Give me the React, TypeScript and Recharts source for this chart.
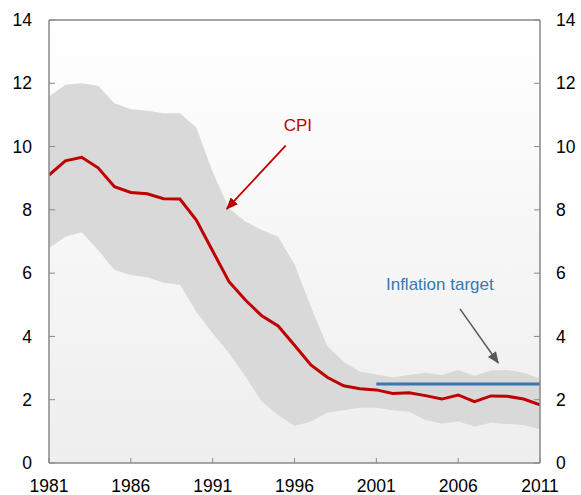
import React from 'react';
import {
  ComposedChart, Area, Line, XAxis, YAxis, ReferenceLine, ReferenceArea, ReferenceDot,
} from 'recharts';

const years = [1981, 1982, 1983, 1984, 1985, 1986, 1987, 1988, 1989, 1990, 1991, 1992, 1993, 1994, 1995, 1996, 1997, 1998, 1999, 2000, 2001, 2002, 2003, 2004, 2005, 2006, 2007, 2008, 2009, 2010, 2011];
const cpi = [9.1, 9.55, 9.66, 9.33, 8.73, 8.55, 8.51, 8.35, 8.34, 7.68, 6.7, 5.73, 5.15, 4.65, 4.33, 3.72, 3.1, 2.71, 2.44, 2.35, 2.31, 2.2, 2.22, 2.13, 2.02, 2.15, 1.94, 2.12, 2.11, 2.02, 1.84];
const bandHigh = [11.58, 11.95, 12.0, 11.92, 11.37, 11.18, 11.13, 11.05, 11.05, 10.6, 9.2, 8.05, 7.63, 7.36, 7.15, 6.28, 4.94, 3.7, 3.2, 2.89, 2.8, 2.71, 2.78, 2.85, 2.78, 2.94, 2.76, 2.92, 2.94, 2.85, 2.68];
const bandLow = [6.79, 7.15, 7.29, 6.73, 6.1, 5.94, 5.87, 5.7, 5.63, 4.78, 4.1, 3.47, 2.73, 1.94, 1.52, 1.17, 1.31, 1.59, 1.67, 1.75, 1.75, 1.67, 1.62, 1.36, 1.25, 1.31, 1.15, 1.27, 1.23, 1.2, 1.07];
const targetStart = 2001;
const targetValue = 2.5;
const xTicks = [1981, 1986, 1991, 1996, 2001, 2006, 2011];
const yTicks = [0, 2, 4, 6, 8, 10, 12, 14];

const data = years.map((yr, i) => ({
  year: yr,
  cpi: cpi[i],
  band: [bandLow[i], bandHigh[i]],
  target: yr >= targetStart ? targetValue : null,
}));

const AXIS = '#898989';
const FONT = 'Liberation Sans, Arial, sans-serif';

const XTick = (props: any) => {
  const { x, y, payload } = props;
  return (
    <g>
      <line x1={x} x2={x} y1={y} y2={y - 5} stroke={AXIS} strokeWidth={1} />
      <text x={x} y={y + 29} textAnchor="middle" fontSize={17.5} fontFamily={FONT} fill="#000">{payload.value}</text>
    </g>
  );
};

const YTickLeft = (props: any) => {
  const { x, y, payload } = props;
  return (
    <g>
      <line x1={x} x2={x + 6} y1={y} y2={y} stroke={AXIS} strokeWidth={1} />
      <text x={x - 17} y={y} dy="0.35em" textAnchor="end" fontSize={17.5} fontFamily={FONT} fill="#000">{payload.value}</text>
    </g>
  );
};

const YTickRight = (props: any) => {
  const { x, y, payload } = props;
  return (
    <g>
      <line x1={x} x2={x - 6} y1={y} y2={y} stroke={AXIS} strokeWidth={1} />
      <text x={x + 16} y={y} dy="0.35em" textAnchor="start" fontSize={17.5} fontFamily={FONT} fill="#000">{payload.value}</text>
    </g>
  );
};

export default function App() {
  return (
    <div style={{ position: 'absolute', left: 0, top: 0, width: 581, height: 495, background: '#fff' }}>
      <ComposedChart width={581} height={495} data={data} margin={{ top: 20, right: 0, bottom: 0, left: 0 }}>
        <defs>
          <linearGradient id="bgGrad" x1="0" y1="0" x2="0" y2="1">
            <stop offset="0%" stopColor="#ffffff" />
            <stop offset="100%" stopColor="#eeeeee" />
          </linearGradient>
          <marker id="arrRed" markerWidth="12" markerHeight="10" refX="11" refY="5" orient="auto" markerUnits="userSpaceOnUse">
            <path d="M0,0 L12,5 L0,10 z" fill="#c00000" />
          </marker>
          <marker id="arrGray" markerWidth="12" markerHeight="10" refX="11" refY="5" orient="auto" markerUnits="userSpaceOnUse">
            <path d="M0,0 L12,5 L0,10 z" fill="#595959" />
          </marker>
        </defs>
        <XAxis
          dataKey="year"
          type="number"
          domain={[1981, 2011]}
          ticks={xTicks}
          height={32}
          tickSize={0}
          tickMargin={0}
          tick={<XTick />}
          axisLine={{ stroke: AXIS, strokeWidth: 1.5 }}
          tickLine={false}
          allowDataOverflow
        />
        <YAxis
          yAxisId="left"
          domain={[0, 14]}
          ticks={yTicks}
          width={49}
          tickSize={0}
          tickMargin={0}
          tick={<YTickLeft />}
          axisLine={{ stroke: AXIS, strokeWidth: 1.5 }}
          tickLine={false}
          allowDataOverflow
        />
        <YAxis
          yAxisId="right"
          orientation="right"
          domain={[0, 14]}
          ticks={yTicks}
          width={41}
          tickSize={0}
          tickMargin={0}
          tick={<YTickRight />}
          axisLine={{ stroke: AXIS, strokeWidth: 1.5 }}
          tickLine={false}
          allowDataOverflow
        />
        <ReferenceArea yAxisId="left" x1={1981} x2={2011} y1={0} y2={14} fill="url(#bgGrad)" fillOpacity={1} stroke="none" />
        <Area yAxisId="left" type="linear" dataKey="band" fill="#d9d9d9" fillOpacity={1} stroke="none" isAnimationActive={false} activeDot={false} />
        <Line yAxisId="left" type="linear" dataKey="cpi" stroke="#c00000" strokeWidth={3} dot={false} activeDot={false} isAnimationActive={false} />
        <Line yAxisId="left" type="linear" dataKey="target" stroke="#3a77b0" strokeWidth={3} dot={false} activeDot={false} isAnimationActive={false} connectNulls={false} />
        <ReferenceLine yAxisId="left" y={14} stroke={AXIS} strokeWidth={1.5} />
        <ReferenceLine
          yAxisId="left"
          segment={[{ x: 1995.46, y: 10.03 }, { x: 1991.86, y: 8.03 }]}
          stroke="#c00000"
          strokeWidth={1.8}
          markerEnd="url(#arrRed)"
        />
        <ReferenceLine
          yAxisId="left"
          segment={[{ x: 2006.11, y: 4.87 }, { x: 2008.45, y: 3.16 }]}
          stroke="#595959"
          strokeWidth={1.5}
          markerEnd="url(#arrGray)"
        />
        <ReferenceDot
          yAxisId="left"
          x={1996.21}
          y={10.68}
          r={0}
          stroke="none"
          label={{ value: 'CPI', position: 'center', fill: '#c00000', fontSize: 17, fontFamily: FONT }}
        />
        <ReferenceDot
          yAxisId="left"
          x={2004.88}
          y={5.65}
          r={0}
          stroke="none"
          label={{ value: 'Inflation target', position: 'center', fill: '#3a77b0', fontSize: 17, fontFamily: FONT }}
        />
      </ComposedChart>
    </div>
  );
}
